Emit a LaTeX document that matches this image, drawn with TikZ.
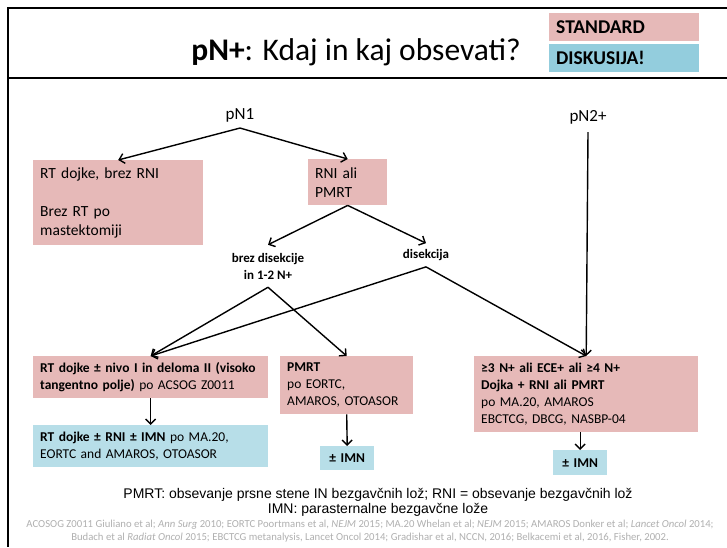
\documentclass[tikz,border=0pt]{standalone}
\usepackage{fontspec}
\setmainfont{Carlito}
\newfontfamily\legfont{Liberation Sans}
\usetikzlibrary{arrows.meta}
\definecolor{stdpink}{HTML}{E6B9B8}
\definecolor{hdrblue}{HTML}{93CDDD}
\definecolor{lblue}{HTML}{B7DEE8}
\definecolor{refgray}{HTML}{B0B0B0}
\tikzset{
  box/.style={inner xsep=7pt, inner ysep=0pt, align=left, anchor=north west},
  pinkbox/.style={box, fill=stdpink},
  bluebox/.style={box, fill=lblue},
  upper/.style={font=\fontsize{15.5}{19}\selectfont},
  lower/.style={font=\fontsize{13.5}{17}\selectfont},
  hdr/.style={box, font=\bfseries\fontsize{19.5}{22}\selectfont, text width=136pt, minimum height=28pt},
  lbl/.style={font=\bfseries\fontsize{13}{17}\selectfont, align=center, inner xsep=0pt},
  arr/.style={line width=1.4pt, -{Straight Barb[length=5pt,width=10pt,line width=1.4pt]}},
  frame/.style={line width=2.5pt},
}
\begin{document}
\begin{tikzpicture}[x=1pt,y=-1pt]
\useasboundingbox (0,0) rectangle (727,547);
\fill[white] (0,0) rectangle (727,547);
% frame
\draw[frame] (727,8) -- (8,8) -- (8,547);
\draw[frame] (8,78) -- (727,78);
% header
\node[anchor=base east, font=\fontsize{31.5}{36}\selectfont, inner sep=0pt] (title) at (521,60) {\textbf{pN+}: Kdaj in kaj obsevati?};
\node[hdr, fill=stdpink] (std) at (549,13) {STANDARD};
\node[hdr, fill=hdrblue] (dis) at (549,44) {DISKUSIJA!};
% top level
\node[font=\fontsize{17}{20}\selectfont, inner ysep=6pt] (pN1) at (240,115) {pN1};
\node[font=\fontsize{17}{20}\selectfont, inner ysep=8pt] (pN2) at (588,117) {pN2+};
% upper boxes
\node[pinkbox, upper, text width=156pt, minimum height=85pt] (b1) at (33,160) {RT dojke, brez RNI\\[19pt]Brez RT po\\mastektomiji};
\node[pinkbox, upper, text width=65pt, minimum height=46pt] (b2) at (308,159) {RNI ali\\PMRT};
% branch labels
\node[lbl, inner ysep=8pt] (brez) at (268,266) {brez disekcije\\in 1-2 N+};
\node[lbl, inner ysep=6pt] (disek) at (426,255) {disekcija};
% lower boxes
\node[pinkbox, lower, text width=221pt, minimum height=42pt] (b3) at (33,356) {\textbf{RT dojke ± nivo I in deloma II (visoko}\\\textbf{tangentno polje)} po ACSOG Z0011};
\node[pinkbox, lower, text width=119pt, minimum height=58pt] (pmrt) at (280,356) {\textbf{PMRT}\\po EORTC,\\AMAROS, OTOASOR};
\node[pinkbox, lower, text width=210pt, minimum height=76pt] (b5) at (474,356) {\textbf{≥3 N+ ali ECE+ ali ≥4 N+}\\\textbf{Dojka + RNI ali PMRT}\\po MA.20, AMAROS\\EBCTCG, DBCG, NASBP-04};
\node[bluebox, lower, text width=221pt, minimum height=42pt] (i1) at (33,425) {\textbf{RT dojke ± RNI ± IMN} po MA.20,\\EORTC and AMAROS, OTOASOR};
\node[bluebox, lower, align=center, text width=40pt, minimum height=24pt] (i2) at (320,446) {\textbf{± IMN}};
\node[bluebox, lower, align=center, text width=40pt, minimum height=25pt] (i3) at (553,450) {\textbf{± IMN}};
% connectors
\draw[arr] (pN1.south) -- (b1.north);
\draw[arr] (pN1.south) -- (b2.north);
\draw[arr] (b2.south) -- (brez.north);
\draw[arr] (b2.south) -- (disek.north);
\draw[arr] (brez.south) -- (b3.north);
\draw[arr] (brez.south) -- (pmrt.north);
\draw[arr] (disek.south) -- (b3.north);
\draw[arr] (disek.south) -- (b5.north);
\draw[arr] (pN2.south) -- (b5.north);
\draw[arr] (b3.south) -- (i1.north);
\draw[arr] (pmrt.south) -- (i2.north);
\draw[arr] (b5.south -| i3.north) -- (i3.north);
% footer
\node[font=\legfont\fontsize{14}{15}\selectfont, align=center] (leg) at (378,502) {PMRT: obsevanje prsne stene IN bezgavčnih lož; RNI = obsevanje bezgavčnih lož\\IMN: parasternalne bezgavčne lože};
\node[font=\fontsize{10.7}{12.5}\selectfont, text=refgray, align=center] (refs) at (370,531) {ACOSOG Z0011 Giuliano et al; \textit{Ann Surg} 2010; EORTC Poortmans et al, \textit{NEJM} 2015; MA.20 Whelan et al; \textit{NEJM} 2015; AMAROS Donker et al; \textit{Lancet Oncol} 2014;\\Budach et al \textit{Radiat Oncol} 2015; EBCTCG metanalysis, Lancet Oncol 2014; Gradishar et al, NCCN, 2016; Belkacemi et al, 2016, Fisher, 2002.};
\end{tikzpicture}
\end{document}
